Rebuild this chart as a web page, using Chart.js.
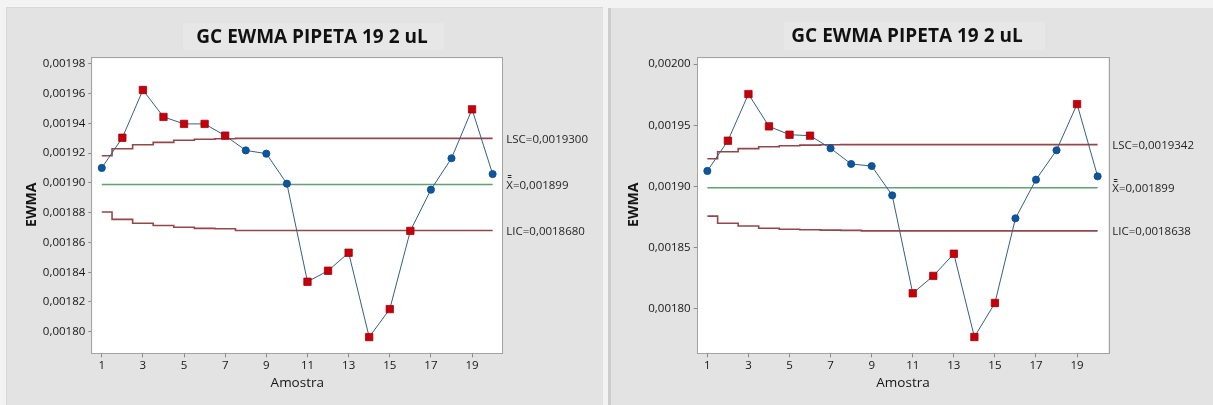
<!DOCTYPE html>
<html>
<head>
<meta charset="utf-8">
<title>GC EWMA PIPETA 19 2 uL</title>
<script src="https://cdn.jsdelivr.net/npm/chart.js@4"></script>
<style>
  html, body { margin: 0; padding: 0; width: 1213px; height: 405px; overflow: hidden; background: #f3f3f3; }
  canvas { position: absolute; background: #e3e3e3; }
  #chartA { left: 7px; top: 8px; }
  #chartB { left: 611px; top: 8px; }
  #sepA { position: absolute; left: 608px; top: 8px; width: 3px; height: 397px; background: #cdcdcd; }
  #edgeA { position: absolute; left: 6px; top: 7px; width: 597px; height: 398px; border-left: 1px solid #d8d8d8; border-top: 1px solid #d8d8d8; box-sizing: border-box; }
</style>
</head>
<body>
<div id="edgeA"></div>
<div id="sepA"></div>
<canvas id="chartA" width="596" height="397"></canvas>
<canvas id="chartB" width="602" height="397"></canvas>
<script>
// Sample numbers (x axis) and tick values
const samples = [1, 2, 3, 4, 5, 6, 7, 8, 9, 10, 11, 12, 13, 14, 15, 16, 17, 18, 19, 20];
const xTicks = [1, 3, 5, 7, 9, 11, 13, 15, 17, 19];

// Chart A: EWMA statistics and control limits
const ewmaA = [0.0019101, 0.0019304, 0.0019625, 0.0019444, 0.0019397, 0.0019397, 0.0019318, 0.0019219, 0.0019197, 0.0018995,
               0.0018336, 0.0018410, 0.0018531, 0.0017964, 0.0018152, 0.0018678, 0.0018955, 0.0019166, 0.0019495, 0.0019060];
const uclA = [0.0019183, 0.0019230, 0.0019257, 0.0019273, 0.0019287, 0.0019294, 0.0019297, 0.0019300, 0.0019300, 0.0019300,
              0.0019300, 0.0019300, 0.0019300, 0.0019300, 0.0019300, 0.0019300, 0.0019300, 0.0019300, 0.0019300, 0.0019300];
const lclA = [0.0018805, 0.0018755, 0.0018729, 0.0018714, 0.0018702, 0.0018695, 0.0018692, 0.0018680, 0.0018680, 0.0018680,
              0.0018680, 0.0018680, 0.0018680, 0.0018680, 0.0018680, 0.0018680, 0.0018680, 0.0018680, 0.0018680, 0.0018680];
const centerA = 0.001899;
const yTicksA = [0.00180, 0.00182, 0.00184, 0.00186, 0.00188, 0.00190, 0.00192, 0.00194, 0.00196, 0.00198];

// Chart B: EWMA statistics and control limits
const ewmaB = [0.0019127, 0.0019374, 0.0019755, 0.0019491, 0.0019423, 0.0019415, 0.0019312, 0.0019184, 0.0019167, 0.0018928,
               0.0018128, 0.0018270, 0.0018451, 0.0017771, 0.0018049, 0.0018740, 0.0019056, 0.0019296, 0.0019673, 0.0019083];
const uclB = [0.0019227, 0.0019284, 0.0019309, 0.0019325, 0.0019333, 0.0019338, 0.0019341, 0.0019342, 0.0019342, 0.0019342,
              0.0019342, 0.0019342, 0.0019342, 0.0019342, 0.0019342, 0.0019342, 0.0019342, 0.0019342, 0.0019342, 0.0019342];
const lclB = [0.0018758, 0.0018700, 0.0018677, 0.0018659, 0.0018651, 0.0018647, 0.0018644, 0.0018642, 0.0018638, 0.0018638,
              0.0018638, 0.0018638, 0.0018638, 0.0018638, 0.0018638, 0.0018638, 0.0018638, 0.0018638, 0.0018638, 0.0018638];
const centerB = 0.001899;
const yTicksB = [0.00180, 0.00185, 0.00190, 0.00195, 0.00200];

const chartTitle = 'GC EWMA PIPETA 19 2 uL';
const xTitle = 'Amostra';
const yTitle = 'EWMA';

const FONT = '"Open Sans", "Noto Sans", sans-serif';
const COL_LINE = '#33627f';
const COL_IN = '#0d559c';
const COL_OUT = '#c4000b';
const COL_LIMIT = '#93474a';
const COL_CENTER = '#639f72';

const comma = (v, d) => v.toFixed(d).replace('.', ',');

// Placement of each panel's plot area and texts (canvas coordinates)
const layoutA = { area: { left: 85.3, top: 50.3, right: 495.3, bottom: 345.3 }, w: 596, h: 397,
                  yRange: [0.0017855, 0.0019838], xRange: [0.54, 20.47],
                  title: [305, 30], titleBox: [176, 15, 261, 27], yTitleX: 25 };
const layoutB = { area: { left: 86.7, top: 50.3, right: 497.3, bottom: 345.3 }, w: 602, h: 397,
                  yRange: [0.0017638, 0.0020047], xRange: [0.53, 20.52],
                  title: [296, 29], titleBox: [173, 14, 261, 28], yTitleX: 23.5 };

const decor = {
  id: 'decor',
  beforeDraw(chart, args, o) {
    const { ctx, chartArea: a } = chart;
    ctx.save();
    // title backdrop and title
    ctx.fillStyle = '#e7e7e7';
    ctx.fillRect(...o.titleBox);
    ctx.fillStyle = '#111111';
    ctx.font = 'bold 19px ' + FONT;
    ctx.textAlign = 'center';
    ctx.textBaseline = 'middle';
    ctx.fillText(chartTitle, o.title[0], o.title[1]);
    // white plot area
    ctx.fillStyle = '#ffffff';
    ctx.fillRect(a.left, a.top, a.right - a.left, a.bottom - a.top);
    ctx.restore();
  },
  afterDraw(chart, args, o) {
    const { ctx, chartArea: a, scales } = chart;
    ctx.save();
    ctx.strokeStyle = '#a3a3a3';
    ctx.lineWidth = 1;
    ctx.strokeRect(Math.round(a.left) - 0.5, Math.round(a.top) - 0.5,
                   Math.round(a.right - a.left) + 1, Math.round(a.bottom - a.top) + 1);
    // axis titles
    ctx.fillStyle = '#151515';
    ctx.textAlign = 'center';
    ctx.textBaseline = 'middle';
    ctx.font = '13.5px ' + FONT;
    ctx.fillText(xTitle, (a.left + a.right) / 2, 375);
    ctx.save();
    ctx.translate(o.yTitleX, (a.top + a.bottom) / 2 - 1);
    ctx.rotate(-Math.PI / 2);
    ctx.font = 'bold 14px ' + FONT;
    ctx.fillText(yTitle, 0, 0);
    ctx.restore();
    // limit labels to the right of the plot
    ctx.font = '11.5px ' + FONT;
    ctx.fillStyle = '#262626';
    ctx.textAlign = 'left';
    const x = a.right + 4;
    const y = scales.y;
    ctx.fillText('LSC=' + comma(o.ucl, 7), x, y.getPixelForValue(o.ucl) + 1);
    const cy = y.getPixelForValue(o.center) + 1;
    ctx.fillText('X=' + comma(o.center, 6), x, cy);
    // double bar over the X of the centre-line label
    const xw = ctx.measureText('X').width;
    ctx.strokeStyle = '#262626';
    ctx.lineWidth = 1;
    ctx.beginPath();
    ctx.moveTo(x + 1.5, Math.round(cy - 7) - 0.5); ctx.lineTo(x + xw - 1.5, Math.round(cy - 7) - 0.5);
    ctx.moveTo(x + 1.5, Math.round(cy - 9) - 0.5); ctx.lineTo(x + xw - 1.5, Math.round(cy - 9) - 0.5);
    ctx.stroke();
    ctx.fillText('LIC=' + comma(o.lcl, 7), x, y.getPixelForValue(o.lcl) + 1);
    ctx.restore();
  }
};

function pts(values) {
  return samples.map((s, i) => ({ x: s, y: values[i] }));
}

function makeChart(id, L, ewma, ucl, lcl, center, yTicks) {
  const out = ewma.map((v, i) => v > ucl[i] || v < lcl[i]);
  const yW = 70, xH = 30;
  return new Chart(document.getElementById(id), {
    type: 'line',
    data: {
      datasets: [
        {
          data: pts(ewma),
          borderColor: COL_LINE,
          borderWidth: 1,
          pointStyle: out.map(o => (o ? 'rect' : 'circle')),
          pointRadius: out.map(o => (o ? 5.2 : 3.6)),
          pointBackgroundColor: out.map(o => (o ? COL_OUT : COL_IN)),
          pointBorderColor: out.map(o => (o ? '#a3000a' : '#0a4a8a')),
          pointBorderWidth: 0.8,
          tension: 0
        },
        {
          data: pts(ucl), stepped: 'middle', borderColor: COL_LIMIT, borderWidth: 1.6, pointRadius: 0
        },
        {
          data: [{ x: samples[0], y: center }, { x: samples[samples.length - 1], y: center }],
          borderColor: COL_CENTER, borderWidth: 1.6, pointRadius: 0
        },
        {
          data: pts(lcl), stepped: 'middle', borderColor: COL_LIMIT, borderWidth: 1.6, pointRadius: 0
        }
      ]
    },
    options: {
      responsive: false,
      animation: false,
      events: [],
      layout: {
        padding: {
          left: L.area.left - yW,
          top: L.area.top,
          right: L.w - L.area.right,
          bottom: L.h - L.area.bottom - xH
        }
      },
      plugins: {
        legend: { display: false },
        tooltip: { enabled: false },
        decor: { title: L.title, titleBox: L.titleBox, yTitleX: L.yTitleX,
                 ucl: ucl[ucl.length - 1], lcl: lcl[lcl.length - 1], center: center }
      },
      scales: {
        x: {
          type: 'linear',
          min: L.xRange[0], max: L.xRange[1],
          afterBuildTicks: s => { s.ticks = xTicks.map(v => ({ value: v })); },
          afterFit: s => { s.height = xH; },
          border: { display: false },
          grid: { drawOnChartArea: false, drawTicks: true, tickLength: 4, tickColor: '#8a8a8a', tickWidth: 1 },
          ticks: { color: '#161616', font: { family: FONT, size: 11.5 }, padding: 2, maxRotation: 0,
                   callback: v => String(v) }
        },
        y: {
          type: 'linear',
          min: L.yRange[0], max: L.yRange[1],
          afterBuildTicks: s => { s.ticks = yTicks.map(v => ({ value: v })); },
          afterFit: s => { s.width = yW; },
          border: { display: false },
          grid: { drawOnChartArea: false, drawTicks: true, tickLength: 4, tickColor: '#8a8a8a', tickWidth: 1 },
          ticks: { color: '#161616', font: { family: FONT, size: 11.5 }, padding: 3,
                   callback: v => comma(v, 5) }
        }
      }
    },
    plugins: [decor]
  });
}

makeChart('chartA', layoutA, ewmaA, uclA, lclA, centerA, yTicksA);
makeChart('chartB', layoutB, ewmaB, uclB, lclB, centerB, yTicksB);
</script>
</body>
</html>
